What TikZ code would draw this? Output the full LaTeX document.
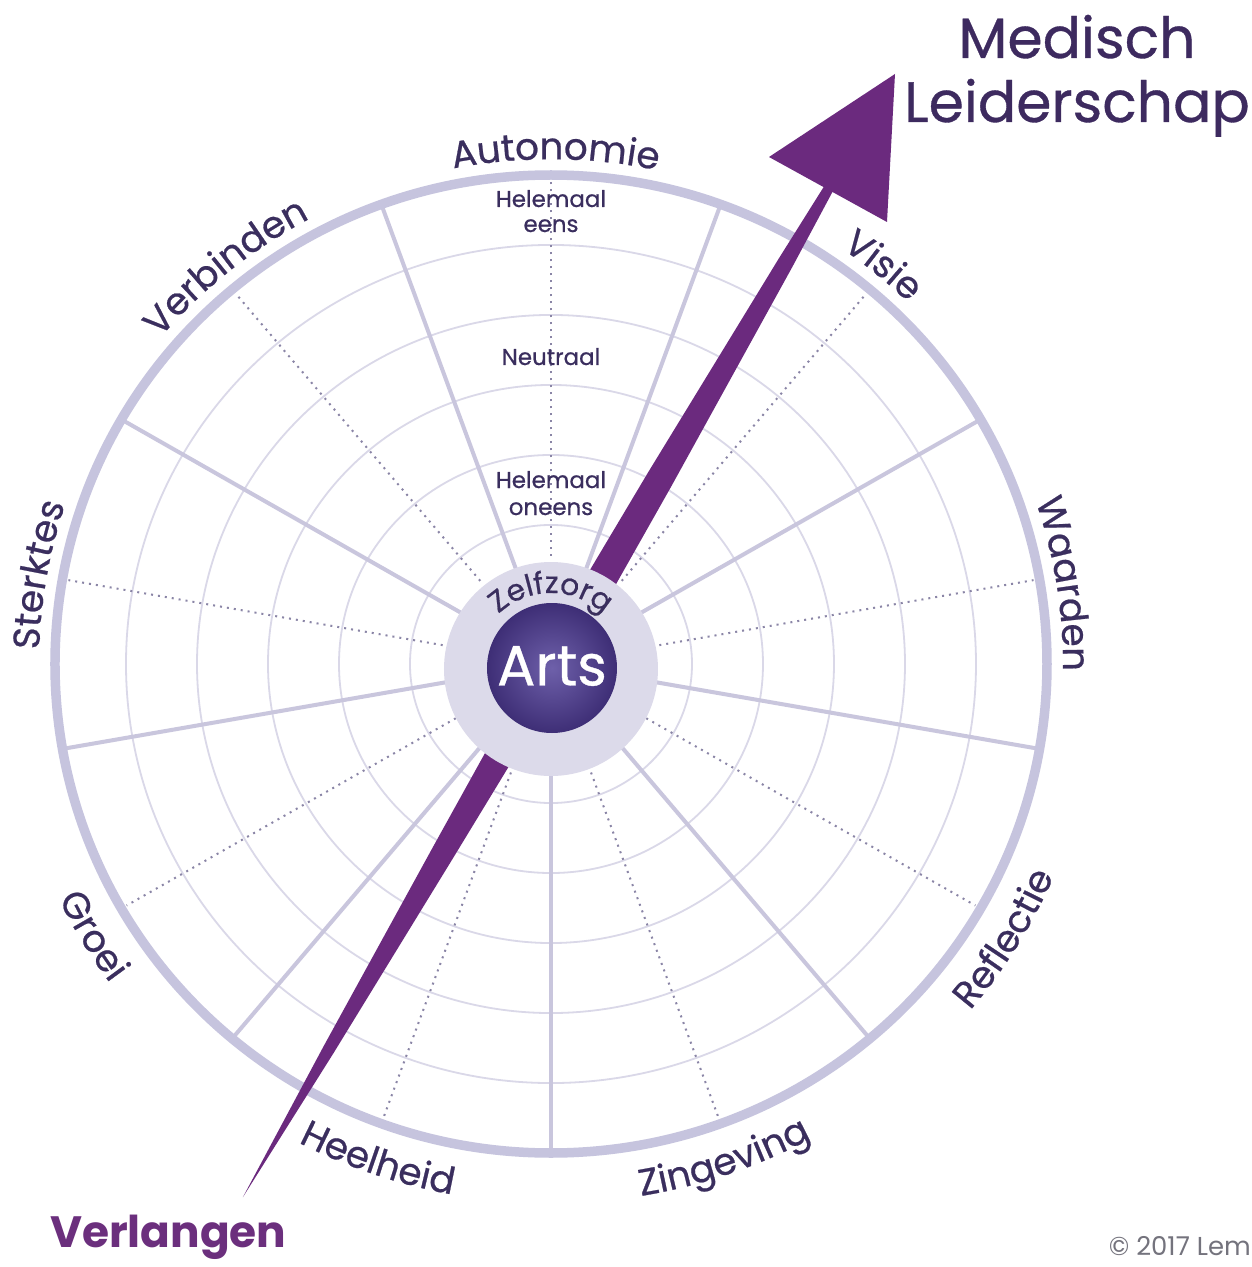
\documentclass[tikz,border=0pt]{standalone}
\usepackage{fontspec}
\newfontfamily\pop{Poppins}
\newfontfamily\popm{Poppins}[FakeBold=0.6]
\usetikzlibrary{decorations.text}
\definecolor{ringcol}{HTML}{C6C4DE}
\definecolor{thincol}{HTML}{DAD8E8}
\definecolor{spokecol}{HTML}{C9C6DD}
\definecolor{dotcol}{HTML}{8A85A6}
\definecolor{labcol}{HTML}{3A2E5E}
\definecolor{titlecol}{HTML}{3D2A5F}
\definecolor{arrowcol}{HTML}{6B2A7E}
\definecolor{diskcol}{HTML}{DCDAEA}
\definecolor{artsin}{HTML}{6E60AA}
\definecolor{artsout}{HTML}{3E2E76}
\definecolor{verlcol}{HTML}{6B2F7D}
\definecolor{copycol}{HTML}{74737D}
\newcommand\labfont{\popm\fontsize{37.5}{37.5}\selectfont\color{labcol}}
\newcommand\zfont{\popm\fontsize{30}{30}\selectfont\color{labcol}}
\newcommand\cwlab[2]{%
  \path[decorate, decoration={text along path, text align=center, text={|\labfont|#2}}]
    ({#1+25}:512 and 504.8) arc[start angle={#1+25}, end angle={#1-25}, x radius=512, y radius=504.8];}
\newcommand\ccwlab[2]{%
  \path[decorate, decoration={text along path, text align=center, text={|\labfont|#2}}]
    ({#1-25}:547 and 539.3) arc[start angle={#1-25}, end angle={#1+25}, x radius=547, y radius=539.3];}
\begin{document}
\begin{tikzpicture}[x=1bp,y=1bp,
  outerring/.style={draw=ringcol, line width=9.5bp},
  thinring/.style={draw=thincol, line width=1.8bp},
  spoke/.style={draw=spokecol, line width=4bp},
  dotspoke/.style={draw=dotcol, line width=2bp, dash pattern=on 2bp off 5bp},
  scaletext/.style={font=\popm\fontsize{23}{23}\selectfont, text=labcol, inner sep=0pt},
  titletext/.style={font=\popm\fontsize{57}{57}\selectfont, text=titlecol, inner sep=0pt},
]
\useasboundingbox (-551,-603) rectangle (701,664);
\fill[white] (-551,-603) rectangle (701,664);
% thin rings
\foreach \r in {141,212,283,354,425}
  \draw[thinring] (0,0) ellipse [x radius=\r, y radius=0.986*\r];
% spokes
\foreach \a in {30,70,...,350}
  \draw[spoke] (\a:100 and 98.6) -- (\a:496 and 489);
\foreach \a in {10,50,...,330}
  \draw[dotspoke] (\a:110 and 108.5) -- (\a:490 and 483);
% outer ring
\draw[outerring] (0,0) ellipse [x radius=496, y radius=489];
% sector labels
\cwlab{89.5}{Autonomie}
\cwlab{50.5}{Visie}
\cwlab{9}{Waarden}
\cwlab{129}{Verbinden}
\cwlab{170}{Sterktes}
\ccwlab{328.5}{Reflectie}
\ccwlab{289}{Zingeving}
\ccwlab{251}{Heelheid}
\ccwlab{211}{Groei}
% scale texts
\node[scaletext, anchor=base] (he1) at (0,457) {Helemaal};
\node[scaletext, anchor=base] (he2) at (0,432) {eens};
\node[scaletext, anchor=base] (neu) at (0,299) {Neutraal};
\node[scaletext, anchor=base] (ho1) at (0,176) {Helemaal};
\node[scaletext, anchor=base] (ho2) at (0,149) {oneens};
% arrow shaft
\coordinate (tip) at (-308,-533);
\fill[arrowcol] (tip) -- (-227.8,-383.0) -- (-117.1,-181.3) -- (-10.4,11.2) -- (97.1,191.6)
  -- (227.5,405.0) -- (280.7,489.8) -- (288.5,485.2) -- (241.3,397.0) -- (120.5,178.0)
  -- (17.2,-4.8) -- (-97.2,-192.9) -- (-217.4,-389.0) -- cycle;
% arrow head
\coordinate (headtop) at (344,590);
\coordinate (headleft) at (218,507);
\coordinate (headbottom) at (336,442);
\fill[arrowcol] (headtop) -- (headleft) -- (headbottom) -- cycle;
% centre
\fill[diskcol] (0,-5) circle[radius=107];
\shade[inner color=artsin, outer color=artsout] (1,-4) circle[radius=65];
\path[decorate, decoration={text along path, text align=center, text={|\zfont|Zelfzorg}}]
  (0,-5) ++(150:76) arc[start angle=150, end angle=30, radius=76];
\node[font=\popm\fontsize{57}{57}\selectfont, text=white, inner sep=0pt] (arts) at (1,-2) {Arts};
% titles
\node[titletext, anchor=base] (med) at (526,606) {Medisch};
\node[titletext, anchor=base] (lead) at (526,542) {Leiderschap};
\node[font=\pop\bfseries\fontsize{44}{44}\selectfont, text=verlcol, inner sep=0pt, anchor=base west] (verl) at (-501,-583) {Verlangen};
\node[font=\pop\fontsize{26}{26}\selectfont, text=copycol, inner sep=0pt, anchor=base east] (copy) at (700,-591) {© 2017 Lem};
\end{tikzpicture}
\end{document}
